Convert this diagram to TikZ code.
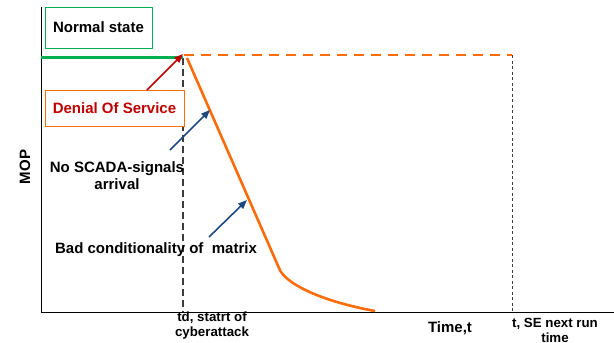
\documentclass[tikz,border=0pt]{standalone}
\usepackage{fontspec}
\setmainfont{Liberation Sans}
\usetikzlibrary{arrows.meta}
\definecolor{okgreen}{RGB}{0,176,80}
\definecolor{dosorange}{RGB}{252,108,10}
\definecolor{dosred}{RGB}{192,0,0}
\definecolor{arrblue}{RGB}{31,73,125}
\definecolor{dashgray}{RGB}{60,60,60}
\tikzset{
  lbl/.style={font=\bfseries\fontsize{15}{17}\selectfont, inner sep=0pt, align=center},
  smalllbl/.style={font=\bfseries\fontsize{13.3}{15}\selectfont, inner sep=0pt, align=center},
  statebox/.style={draw, line width=0.9pt, fill=white, minimum width=#1, inner sep=0pt},
  tip/.style={-{Triangle[length=9pt,width=7pt]}, line width=1.6pt},
}
\begin{document}
\begin{tikzpicture}[x=1pt,y=-1pt]
\useasboundingbox (0,0) rectangle (614,343);
% axes
\coordinate (ytop) at (41,7);
\coordinate (orig) at (41,312);
\coordinate (xend) at (614,312);
\draw[line width=1pt] (ytop) -- (orig) -- (xend);
% key points
\coordinate (td) at (183,57.5);
\coordinate (tdbot) at (183,312);
\coordinate (se) at (512,55);
\coordinate (sebot) at (512,312);
\coordinate (ostart) at (184,55);
\coordinate (cstart) at (187,58);
\coordinate (kink) at (279,268);
\coordinate (cend) at (375,311);
% dashed lines
\draw[dashgray, line width=1.1pt, dash pattern=on 7pt off 4pt] (td) -- (tdbot);
\draw[dosorange, line width=1.1pt, dash pattern=on 10pt off 7pt] (ostart) -- (se);
\draw[dashgray, line width=0.9pt, dash pattern=on 3pt off 2.5pt] (se) -- (sebot);
% normal state line
\draw[okgreen, line width=2.6pt] (41,57.5) -- (td);
% MOP curve
\draw[dosorange, line width=2.6pt, line join=round] (cstart) -- (kink) .. controls (284,283) and (320,301) .. (cend);
% boxes
\node[statebox=107pt, draw=okgreen, minimum height=41pt, lbl] (normal) at (98.5,27.5) {Normal state};
\node[statebox=139pt, draw=dosorange, minimum height=36pt, lbl, text=dosred] (dos) at (114.5,108) {Denial Of Service};
% labels
\node[lbl] (scada) at (117,176) {No SCADA-signals\\arrival};
\node[lbl] (badcond) at (156,250) {Bad conditionality of\ \ matrix};
\node[lbl, rotate=90] (mop) at (25,167) {MOP};
\node[smalllbl] (tdlbl) at (212,326) {td, statrt of\\cyberattack};
\node[lbl] (timelbl) at (450,328) {Time,t};
\node[smalllbl] (selbl) at (555,330) {t, SE next run\\time};
% arrows
\coordinate (redfrom) at (147,90);
\coordinate (redto) at (183,54);
\draw[tip, dosred] (redfrom) -- (redto);
\coordinate (b1from) at (170,150);
\coordinate (b1to) at (210,110);
\draw[tip, arrblue] (b1from) -- (b1to);
\coordinate (b2from) at (209,237);
\coordinate (b2to) at (247,200);
\draw[tip, arrblue] (b2from) -- (b2to);
\end{tikzpicture}
\end{document}
